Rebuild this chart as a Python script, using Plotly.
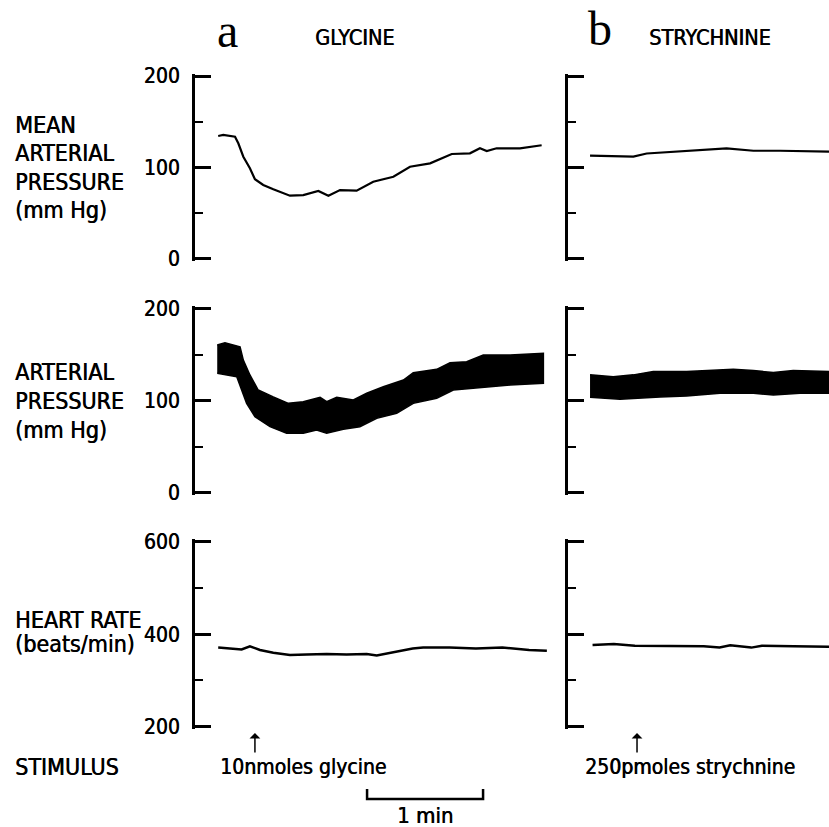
import plotly.graph_objects as go

W, H = 829, 827

# ---------------- data (time in s from the start of each record window) ----------------
mean_left_t = [12, 14.6, 20.7, 22.4, 25, 28.4, 31, 35.3, 40.5, 49.1, 56, 63.8, 69, 75, 83.6,
               92.2, 102.6, 111.2, 121.6, 132.8, 142.2, 147.4, 150.9, 156, 168.1, 179.3]
mean_left_v = [134.2, 135.3, 133.4, 126.2, 111.5, 98.7, 86.7, 80.4, 75.7, 68.7, 69.4, 73.8,
               68.7, 74.9, 74.2, 84, 89.5, 100.5, 104.2, 114.4, 115.2, 120.7, 117.7, 120.7,
               120.7, 124]

ap_left_top_t = [11.5, 15.5, 23.3, 25, 28.4, 32.7, 40.5, 48.3, 56, 64.7, 68.1, 73.3, 81.9,
                 88.8, 97.4, 107.8, 112.9, 125, 131.9, 140.5, 149.1, 163, 180.2]
ap_left_top_v = [160.5, 163, 158.6, 144, 127.9, 111.5, 104, 97, 98.8, 103.6, 98.8, 103.6,
                 100.7, 108, 115, 122.4, 130.4, 134, 141.2, 142.3, 149.6, 149.6, 151.5]
ap_left_bot_t = [11.5, 21.6, 23.3, 26.7, 31, 38.8, 47.4, 56, 62.9, 68.1, 76.7, 85.3, 94,
                 104.3, 112.9, 125, 133.6, 145.7, 163, 180.2]
ap_left_bot_v = [129.7, 126, 117, 97, 82.5, 71.6, 64.4, 64.4, 68, 64.4, 68.8, 71.6, 80.7,
                 86.2, 97, 102.5, 111.5, 113.4, 117, 118.8]

hr_left_t = [12, 18.1, 24.1, 28.4, 33.6, 40.5, 49.1, 57.8, 68.1, 78.4, 88.8, 94, 102.6,
             112.6, 118, 131.7, 145.3, 159, 172.8, 182]
hr_left_v = [371, 369.4, 367, 374, 366, 360, 355, 356, 357, 356, 357, 354, 361,
             369, 371, 371, 369, 371, 366, 364]

mean_right_t = [11.4, 33.8, 40.7, 57.9, 71.7, 82, 95.9, 109.7, 135]
mean_right_v = [112.6, 111.5, 115, 117, 119, 120.6, 118, 118, 117]

ap_right_top_t = [11.4, 23.4, 33.8, 44.1, 61.4, 71.7, 85.5, 95.9, 106.2, 116.5, 135]
ap_right_top_v = [128, 126, 128, 131.6, 131.6, 132.7, 134, 132.7, 130.5, 132.7, 131.6]
ap_right_bot_t = [11.4, 26.9, 33.8, 47.6, 61.4, 78.6, 95.9, 106.2, 120, 135]
ap_right_bot_v = [103.6, 101.5, 102.5, 104, 105, 108, 108, 106, 108, 108]

hr_right_t = [12.7, 23.7, 34.6, 51, 70.2, 78.4, 83.9, 94.8, 100.3, 116.7, 135]
hr_right_v = [376.6, 378.7, 375, 374, 374, 371.5, 376, 371, 375, 374, 373]

stim_times = [31, 35.7]           # left (glycine), right (strychnine)
stim_labels = ["10nmoles glycine", "250pmoles strychnine"]
scale_start, scale_len = 89, 60   # 1 min calibration bar (left record)

pressure_ticks = [0, 100, 200]
hr_ticks = [200, 400, 600]

# ---------------- helpers ----------------
def px(x):
    return x / W

def py(y):
    return 1 - y / H

FONT = "DejaVu Sans Condensed, DejaVu Sans, sans-serif"
SERIF = "Liberation Serif, DejaVu Serif, serif"
SHADOW = "0.6px 0px 0px black"

fig = go.Figure()

def line(t, v, xa, ya, width):
    fig.add_trace(go.Scatter(x=t, y=v, mode="lines", xaxis=xa, yaxis=ya,
                             line=dict(color="black", width=width), showlegend=False,
                             hoverinfo="skip"))

def band(tt, tv, bt, bv, xa, ya):
    fig.add_trace(go.Scatter(x=tt + bt[::-1], y=tv + bv[::-1], mode="lines", fill="toself",
                             fillcolor="black", xaxis=xa, yaxis=ya,
                             line=dict(color="black", width=1.5), showlegend=False,
                             hoverinfo="skip"))

line(mean_left_t, mean_left_v, "x", "y", 2.2)
line(mean_right_t, mean_right_v, "x2", "y2", 2.2)
band(ap_left_top_t, ap_left_top_v, ap_left_bot_t, ap_left_bot_v, "x3", "y3")
band(ap_right_top_t, ap_right_top_v, ap_right_bot_t, ap_right_bot_v, "x4", "y4")
line(hr_left_t, hr_left_v, "x5", "y5", 2.5)
line(hr_right_t, hr_right_v, "x6", "y6", 2.5)

left_dom = [px(195), px(548)]
right_dom = [px(568), px(829)]
left_range = [0, (548 - 195) * 60 / 116]
right_range = [0, (829 - 568) * 60 / 116]

PAD = 2.5  # px of axis line beyond the end ticks (keeps end ticks from being clipped)
def row(y_top, y_bot, lo, hi):
    per_px = (hi - lo) / (y_bot - y_top)
    return ([py(y_bot + PAD), py(y_top - PAD)], [lo - PAD * per_px, hi + PAD * per_px])

rows = [
    row(76, 258.3, 0, 200) + (pressure_ticks, 50),
    row(308.7, 492.5, 0, 200) + (pressure_ticks, 50),
    row(541.7, 726.7, 200, 600) + (hr_ticks, 100),
]

layout = dict(template="none", width=W, height=H,
              margin=dict(l=0, r=0, t=0, b=0, pad=0, autoexpand=False),
              paper_bgcolor="white", plot_bgcolor="white", showlegend=False)
k = 1
for dom, rng, ticks, minor in rows:
    for side in ("left", "right"):
        sx = "" if k == 1 else str(k)
        layout["xaxis" + sx] = dict(domain=left_dom if side == "left" else right_dom,
                                    range=left_range if side == "left" else right_range,
                                    visible=False, anchor="y" + sx, fixedrange=True,
                                    automargin=False)
        layout["yaxis" + sx] = dict(
            domain=dom, range=rng, anchor="x" + sx, showgrid=False, zeroline=False,
            showline=True, linecolor="black", linewidth=3, automargin=False,
            tickmode="array", tickvals=ticks, ticktext=[str(t) for t in ticks],
            ticks="inside", ticklen=16, tickwidth=2.5, tickcolor="black",
            showticklabels=(side == "left"), ticklabelstandoff=8,
            tickfont=dict(family=FONT, size=21, color="black", shadow=SHADOW),
            minor=dict(ticks="inside", ticklen=8, tickwidth=2, tickcolor="black", dtick=minor,
                       tick0=0, showgrid=False),
            fixedrange=True)
        k += 1

fig.update_layout(**layout)

ann = []
def text(s, x, y, size=23, family=FONT, xanchor="left", yanchor="middle", xref="paper",
         yref="paper", shadow=SHADOW):
    ann.append(dict(text=s, x=x, y=y, xref=xref, yref=yref, showarrow=False,
                    xanchor=xanchor, yanchor=yanchor,
                    font=dict(family=family, size=size, color="black", shadow=shadow)))

# panel headers
text("a", px(227), py(30), size=48, family=SERIF, xanchor="center", shadow="none")
text("GLYCINE", px(313), py(37), size=21.5)
text("b", px(600), py(28), size=48, family=SERIF, xanchor="center", shadow="none")
text("STRYCHNINE", px(647), py(37), size=21.5)

# row labels
for s, y in [("MEAN", 125), ("ARTERIAL", 153), ("PRESSURE", 182), ("(mm Hg)", 210),
             ("ARTERIAL", 372), ("PRESSURE", 401), ("(mm Hg)", 430),
             ("HEART RATE", 620), ("(beats/min)", 644), ("STIMULUS", 767)]:
    text(s, px(13), py(y))

# stimulus arrows and labels
for t, lab, xr, lx in zip(stim_times, stim_labels, ["x5", "x6"], [218, 583]):
    ann.append(dict(text="", x=t, y=py(733), xref=xr, yref="paper", ax=0, ay=21,
                    axref="pixel", ayref="pixel", showarrow=True, arrowhead=1, arrowsize=1.2,
                    arrowwidth=1.5, arrowcolor="black"))
    text(lab, px(lx), py(767), size=21)

# 1 min scale bar
sx0, sx1 = scale_start, scale_start + scale_len
fig.add_shape(type="path", xref="x5", yref="paper",
              path=f"M {sx0},{py(789)} L {sx0},{py(799)} L {sx1},{py(799)} L {sx1},{py(789)}",
              line=dict(color="black", width=2.5))
text("1 min", (sx0 + sx1) / 2, py(815), size=22, xanchor="center", xref="x5")

fig.update_layout(annotations=ann)
fig.write_html("out.html")
